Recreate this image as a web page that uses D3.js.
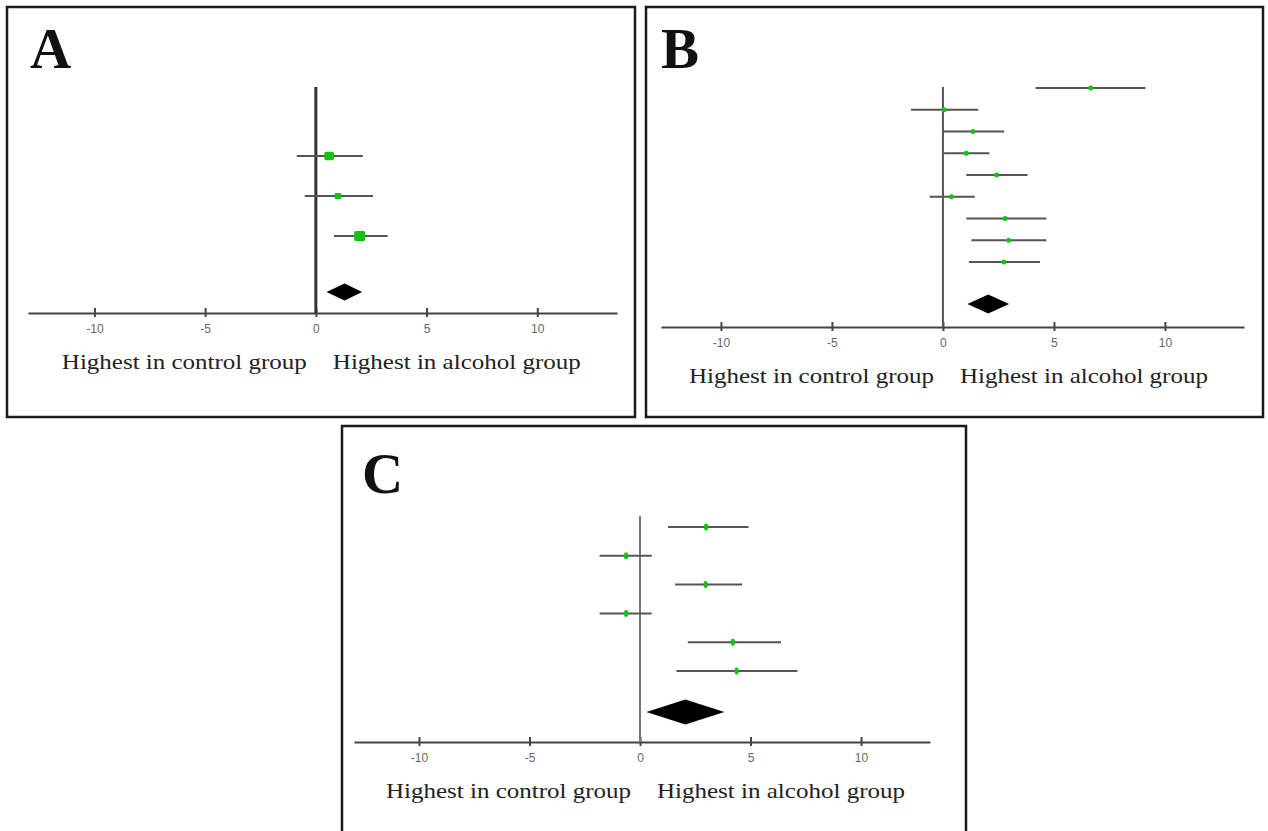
<!DOCTYPE html>
<html>
<head>
<meta charset="utf-8">
<script src="https://cdn.jsdelivr.net/npm/d3@7"></script>
<style>
  body { margin: 0; background: #fff; }
  svg { display: block; }
  .tick_lbl { font-family: "Liberation Sans", Arial, sans-serif; font-size: 12px; fill: #666; }
  .caption { font-family: "Liberation Serif", "Times New Roman", serif; font-size: 22px; fill: #222; }
  .panel_lbl { font-family: "Liberation Serif", "Times New Roman", serif; font-size: 57px; font-weight: bold; fill: #111; }
</style>
</head>
<body>
<svg id="chart" width="1268" height="831"></svg>
<script>
// Forest plots: study estimates with CI, pooled estimate as diamond //
// panel A
var estA = [0.6, 1.0, 1.98];
var loA  = [-0.86, -0.5, 0.82];
var hiA  = [2.12, 2.58, 3.24];
var wtA  = [9.5, 7, 11];          // marker size (study weight)
var pooledA = [0.48, 1.3, 2.09];  // lo, est, hi

// panel B
var estB = [6.66, 0.05, 1.35, 1.05, 2.42, 0.38, 2.8, 2.96, 2.74];
var loB  = [4.17, -1.44, 0.0, 0.05, 1.05, -0.6, 1.05, 1.28, 1.17];
var hiB  = [9.12, 1.59, 2.76, 2.09, 3.81, 1.43, 4.66, 4.66, 4.37];
var pooledB = [1.1, 2.04, 2.98];

// panel C
var estC = [2.99, -0.63, 2.97, -0.63, 4.2, 4.37];
var loC  = [1.27, -1.83, 1.59, -1.83, 2.16, 1.65];
var hiC  = [4.91, 0.53, 4.62, 0.53, 6.38, 7.12];
var pooledC = [0.29, 2.05, 3.82];

var tickValues = [-10, -5, 0, 5, 10];
var tickLabels = ["-10", "-5", "0", "5", "10"];
var captionLeft = "Highest in control group";
var captionRight = "Highest in alcohol group";

var svg_canvas = d3.select("#chart");

// layout per panel
var panels = [
  { label: "A", est: estA, lo: loA, hi: hiA, wt: wtA, pooled: pooledA, marker: "square",
    box: [7, 7, 628, 410], labelXY: [30, 68],
    dom: [-13, 13.6], rng: [28, 617], axisY: 313, lineTop: 87, lineW: 3, lineC: "#333",
    rows: [156, 236], diamondY: 292, diamondH: 17 },
  { label: "B", est: estB, lo: loB, hi: hiB, wt: null, pooled: pooledB, marker: "dot",
    box: [646, 7, 617, 410], labelXY: [661, 68],
    dom: [-12.7, 13.56], rng: [661, 1244], axisY: 327, lineTop: 87, lineW: 2, lineC: "#555",
    rows: [88, 262], diamondY: 304, diamondH: 19 },
  { label: "C", est: estC, lo: loC, hi: hiC, wt: null, pooled: pooledC, marker: "tall",
    box: [342, 426, 624, 430], labelXY: [362, 493],
    dom: [-12.94, 13.12], rng: [354, 930], axisY: 742, lineTop: 516, lineW: 2, lineC: "#777",
    rows: [527, 671], diamondY: 712, diamondH: 25 }
];

panels.forEach(function(p) {
   var g = svg_canvas.append("g").attr("id", "panel_" + p.label);
   var x = d3.scaleLinear().domain(p.dom).range(p.rng);
   var y = d3.scalePoint().domain(d3.range(p.est.length)).range(p.rows);

   g.append("rect")
      .attr("x", p.box[0]).attr("y", p.box[1])
      .attr("width", p.box[2]).attr("height", p.box[3])
      .attr("fill", "none").attr("stroke", "#1a1a1a").attr("stroke-width", 2.5);

   g.append("text").attr("class", "panel_lbl")
      .attr("x", p.labelXY[0]).attr("y", p.labelXY[1])
      .text(p.label);

   // x axis
   var axis = g.append("g").attr("transform", "translate(0," + p.axisY + ")")
      .call(d3.axisBottom(x).tickValues(tickValues).tickSize(0).tickPadding(11)
         .tickFormat(function(d, i) { return tickLabels[i]; }));
   axis.select(".domain").attr("stroke", "#444").attr("stroke-width", 2);
   axis.selectAll(".tick text").attr("class", "tick_lbl").attr("fill", null);
   axis.attr("font-size", null).attr("font-family", null);
   axis.selectAll(".tick").append("line")
      .attr("y1", -5).attr("y2", 4)
      .attr("stroke", "#444").attr("stroke-width", 2);

   // line of no effect
   g.append("line")
      .attr("x1", x(0)).attr("x2", x(0))
      .attr("y1", p.lineTop).attr("y2", p.axisY)
      .attr("stroke", p.lineC).attr("stroke-width", p.lineW);

   // confidence intervals
   g.selectAll("line.ci").data(p.est).enter().append("line").attr("class", "ci")
      .attr("x1", function(d, i) { return x(p.lo[i]); })
      .attr("x2", function(d, i) { return x(p.hi[i]); })
      .attr("y1", function(d, i) { return y(i); })
      .attr("y2", function(d, i) { return y(i); })
      .attr("stroke", "#555").attr("stroke-width", 2);

   // point estimates
   g.selectAll("rect.pt").data(p.est).enter().append("rect").attr("class", "pt")
      .each(function(d, i) {
         var w = 5, h = 5, r = 2.5;
         if (p.marker == "square") { w = p.wt[i]; h = p.wt[i] - 1; r = 1.5; }
         if (p.marker == "tall") { w = 4; h = 7; r = 2; }
         d3.select(this)
            .attr("x", x(d) - w / 2).attr("y", y(i) - h / 2)
            .attr("width", w).attr("height", h).attr("rx", r);
      })
      .attr("fill", "#12c312");

   // pooled diamond
   var pd = p.pooled, dy = p.diamondY, dh = p.diamondH / 2;
   g.append("path")
      .attr("d", "M" + x(pd[0]) + "," + dy + "L" + x(pd[1]) + "," + (dy - dh) +
                 "L" + x(pd[2]) + "," + dy + "L" + x(pd[1]) + "," + (dy + dh) + "Z")
      .attr("fill", "#000");

   // captions
   g.append("text").attr("class", "caption")
      .attr("x", x(0) - 9).attr("y", p.axisY + 56)
      .attr("text-anchor", "end")
      .attr("textLength", 245).attr("lengthAdjust", "spacingAndGlyphs")
      .text(captionLeft);
   g.append("text").attr("class", "caption")
      .attr("x", x(0) + 17).attr("y", p.axisY + 56)
      .attr("textLength", 248).attr("lengthAdjust", "spacingAndGlyphs")
      .text(captionRight);
});
</script>
</body>
</html>
